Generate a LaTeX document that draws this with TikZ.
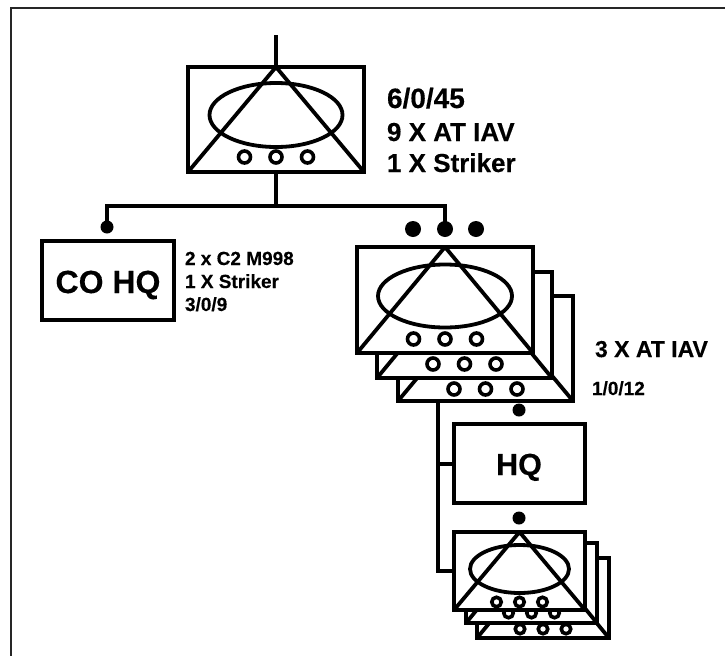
\documentclass[tikz,border=0pt]{standalone}
\usepackage{fontspec}
\setmainfont{Liberation Sans}[BoldFont={Liberation Sans Bold},BoldFeatures={FakeBold=0.35}]
\newcommand\lbl[1]{\fontsize{#1}{#1}\selectfont\bfseries}
% #1 name, #2 x0, #3 y0, #4 x1, #5 y1, #6 ellipse rx, #7 ellipse ry, #8 ellipse centre y, #9 ring y
\newcommand\tacsym[9]{%
  \pgfmathsetmacro\cxx{(#2+#4)/2}%
  \node[unitbox, minimum width=#4pt-#2pt, minimum height=#5pt-#3pt] (#1) at ({(#2+#4)/2},{(#3+#5)/2}) {};
  \draw[sym] (\cxx,#8) ellipse [x radius=#6, y radius=#7];
  \draw[sym, line join=round] (#1.south west) -- (#1.north) -- (#1.south east);
  \node[ring, minimum size=\ringd] (#1r1) at (\cxx-\ringdx,#9) {};
  \node[ring, minimum size=\ringd] (#1r2) at (\cxx,#9) {};
  \node[ring, minimum size=\ringd] (#1r3) at (\cxx+\ringdx,#9) {};
}
\tikzset{
  sym/.style={line width=3.8pt, black},
  unitbox/.style={draw=black, line width=4pt, fill=white, inner sep=0pt, outer sep=0pt, rectangle},
  ring/.style={draw=black, line width=3.6pt, fill=white, circle, inner sep=0pt, outer sep=0pt},
  conn/.style={line width=4pt, black, line join=miter},
  dot/.style={fill=black, circle, inner sep=0pt, outer sep=0pt},
  txt/.style={anchor=base west, inner sep=0pt, outer sep=0pt, text=black},
}
\begin{document}
\begin{tikzpicture}[x=1pt,y=-1pt]
\useasboundingbox (0,0) rectangle (725,656);
\coordinate (frameTL) at (11,8);
\coordinate (frameTR) at (725,8);
\coordinate (frameBL) at (11,656);
\draw[line width=1.5pt, black!85] (frameTR) -- (frameTL) -- (frameBL);

% top symbol
\def\ringd{12pt}\def\ringdx{31.5}
\tacsym{top}{188}{67}{364}{172}{66.5}{32}{115}{157}
\coordinate (topEnd) at (276,35);
\coordinate (busC) at (276,206);
\coordinate (busL) at (107,206);
\coordinate (busR) at (445,206);
\draw[conn] (topEnd) -- (top.north);
\draw[conn] (top.south) -- (busC);

% CO HQ
\node[unitbox, minimum width=132pt, minimum height=79pt] (cohq) at (108,280.5) {};
\node[dot, minimum size=13pt] (dotL) at (107,227) {};
\node[dot, minimum size=16pt] (dotA) at (413,229) {};
\node[dot, minimum size=16pt] (dotB) at (445,229) {};
\node[dot, minimum size=16pt] (dotC) at (476,229) {};
\draw[conn] (dotL.center) -- (busL) -- (busR) -- (dotB.center);

% large stack
\tacsym{bigc}{398}{296}{573}{401}{0}{0}{350}{389}
\tacsym{bigb}{377}{272}{552}{378}{0}{0}{325}{364}
\tacsym{biga}{357}{247}{533}{353}{67}{31.5}{296}{339}
\node[dot, minimum size=13pt] (dotHQ) at (519,410) {};

% HQ box
\node[unitbox, minimum width=131pt, minimum height=79pt] (hq) at (519.5,463.5) {};
\node[dot, minimum size=13pt] (dotS) at (519,518) {};

% small stack
\def\ringd{9.5pt}\def\ringdx{23}
\tacsym{smc}{477}{558}{609}{638}{0}{0}{598}{629}
\tacsym{smb}{466}{543}{597}{623}{0}{0}{583}{613}
\tacsym{sma}{454}{532}{585}{610}{49.5}{24}{569}{602}

% trunk
\coordinate (trunk) at (438,401);
\draw[conn] (trunk) |- (sma.west);
\draw[conn] (trunk |- hq.west) -- (hq.west);

% labels
\node[txt] (t1) at (387,108) {\lbl{28}6/0/45};
\node[txt] (t2) at (387,141) {\lbl{26}9 X AT IAV};
\node[txt] (t3) at (387,172) {\lbl{26}1 X Striker};
\node[anchor=base, inner sep=0pt] (t4) at (108,293) {\lbl{32}CO HQ};
\node[txt] (t5) at (185,265) {\lbl{19}2 x C2 M998};
\node[txt] (t6) at (185,288) {\lbl{19}1 X Striker};
\node[txt] (t7) at (185,311) {\lbl{19}3/0/9};
\node[txt] (t8) at (595,357) {\lbl{23}3 X AT IAV};
\node[txt] (t9) at (592,395) {\lbl{19}1/0/12};
\node[anchor=base, inner sep=0pt] (t10) at (519,475) {\lbl{30.5}HQ};
\end{tikzpicture}
\end{document}
